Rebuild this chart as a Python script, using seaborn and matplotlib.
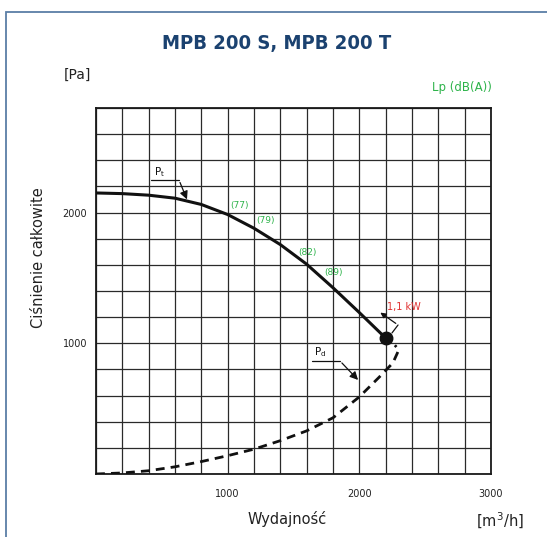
import matplotlib
matplotlib.use("Agg")
import matplotlib.pyplot as plt
import seaborn as sns
import pandas as pd
from matplotlib.patches import Rectangle
from matplotlib import font_manager

# ---- data ----
pt_flow = [0, 200, 400, 600, 800, 1000, 1200, 1400, 1600, 1800, 2000, 2200]
pt_pressure = [2150, 2145, 2133, 2110, 2062, 1985, 1880, 1755, 1605, 1425, 1235, 1040]
pd_flow = [0, 200, 400, 600, 800, 1000, 1200, 1400, 1600, 1800, 2000, 2150, 2255, 2300, 2270]
pd_pressure = [0, 8, 25, 55, 95, 140, 190, 255, 330, 430, 590, 740, 850, 950, 985]
noise_labels = ["(77)", "(79)", "(82)", "(89)"]
noise_x = [1088, 1284, 1605, 1802]
noise_y = [2053, 1936, 1696, 1543]
power_label = "1,1 kW"
power_point = (2200, 1040)
x_ticks = [1000, 2000, 3000]
y_ticks = [1000, 2000]

sns.set_theme(style="white")
plt.rcParams['font.family'] = ['DejaVu Sans']

available = {f.name for f in font_manager.fontManager.ttflist}
if "Liberation Sans Narrow" in available:
    title_font = dict(family=["Liberation Sans Narrow", "DejaVu Sans"], fontsize=18.5)
elif "DejaVu Sans Condensed" in available:
    title_font = dict(family=["DejaVu Sans Condensed", "DejaVu Sans"], fontsize=15.5)
else:
    title_font = dict(family=["DejaVu Sans"], fontsize=14.5, fontstretch="condensed")

fig = plt.figure(figsize=(5.47, 5.37), dpi=100)
ax = fig.add_axes([96/547, 1-474/537, 395/547, 366/537])

# frame around chart
fig.patches.append(Rectangle((6/547, -0.1), 1.2, 1-12/537+0.1, transform=fig.transFigure,
                             fill=False, edgecolor="#5b7ea6", linewidth=1.3))

df_t = pd.DataFrame({"flow": pt_flow, "pressure": pt_pressure})
df_d = pd.DataFrame({"flow": pd_flow, "pressure": pd_pressure})
sns.lineplot(data=df_t, x="flow", y="pressure", ax=ax, color="#111111", linewidth=2.2, sort=False,
             zorder=5, solid_joinstyle="round")
sns.lineplot(data=df_d, x="flow", y="pressure", ax=ax, color="#111111", linewidth=2.0, sort=False,
             zorder=5, linestyle=(0, (3.2, 2.2)))
ax.plot([power_point[0]], [power_point[1]], "o", color="#111111", markersize=9, zorder=6)

ax.set_xlim(0, 3000)
ax.set_ylim(0, 2800)
ax.set_xticks(range(0, 3001, 200))
ax.set_yticks(range(0, 2801, 200))
ax.set_xticklabels(["" if v not in x_ticks else str(v) for v in range(0, 3001, 200)])
ax.set_yticklabels(["" if v not in y_ticks else str(v) for v in range(0, 2801, 200)])
ax.grid(True, color="#2a2a2a", linewidth=0.9)
ax.tick_params(axis="both", length=0, labelsize=7, colors="#222222")
ax.tick_params(axis="x", pad=10.5)
ax.tick_params(axis="y", pad=6.5)
for s in ax.spines.values():
    s.set_color("#1a1a1a")
    s.set_linewidth(1.3)
ax.set_xlabel("")
ax.set_ylabel("")

# noise labels
for t, x, y in zip(noise_labels, noise_x, noise_y):
    ax.text(x, y, t, color="#2db34a", fontsize=6.5, ha="center", va="center", zorder=7)

# power label and arrow
ax.text(2210, 1278, power_label, color="#e03030", fontsize=7, ha="left", va="center", zorder=7)
ax.plot([2248, 2294], [1079, 1140], color="#111111", linewidth=0.9, zorder=7)
ax.annotate("", xy=(2142, 1247), xytext=(2294, 1140),
            arrowprops=dict(arrowstyle="-|>", color="#111111", lw=0.9, mutation_scale=8), zorder=7)

# P_t label
ax.text(486, 2310, r"P$_{\mathregular{t}}$", fontsize=7.5, ha="center", va="center", color="#111111")
ax.plot([418, 630], [2250, 2250], color="#111111", linewidth=0.9)
ax.annotate("", xy=(699, 2081), xytext=(630, 2250),
            arrowprops=dict(arrowstyle="-|>", color="#111111", lw=0.9, mutation_scale=12))
# P_d label
ax.text(1701, 933, r"P$_{\mathregular{d}}$", fontsize=7.5, ha="center", va="center", color="#111111")
ax.plot([1640, 1853], [865, 865], color="#111111", linewidth=0.9)
ax.annotate("", xy=(2005, 704), xytext=(1853, 865),
            arrowprops=dict(arrowstyle="-|>", color="#111111", lw=0.9, mutation_scale=12))

# titles & labels
fig.text(277/547, 1-44/537, "MPB 200 S, MPB 200 T", ha="center", va="center",
         fontweight="bold", color="#1b4270", **title_font)
fig.text(77/547, 1-75/537, "[Pa]", ha="center", va="center", fontsize=10, color="#222222")
fig.text(462/547, 1-88/537, "Lp (dB(A))", ha="center", va="center", fontsize=8.5, color="#2db34a")
fig.text(39/547, 1-258/537, "Ciśnienie całkowite", ha="center", va="center", rotation=90,
         fontsize=10.5, color="#222222")
fig.text(287/547, 1-519/537, "Wydajność", ha="center", va="center", fontsize=10.5, color="#222222")
fig.text(500/547, 1-521/537, r"[m$^{\mathregular{3}}$/h]", ha="center", va="center", fontsize=10.5,
         color="#222222")

fig.savefig("out.png", dpi=100)
